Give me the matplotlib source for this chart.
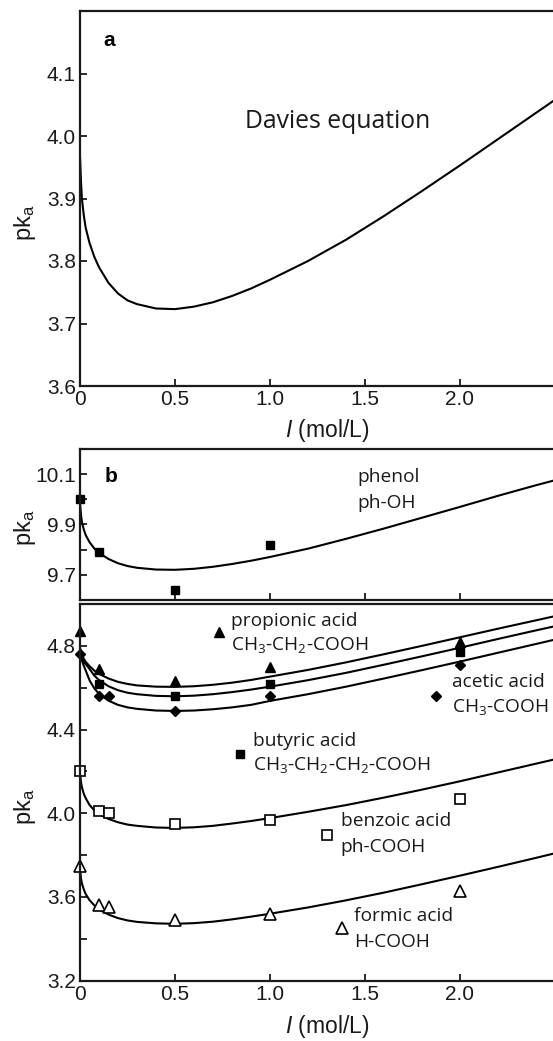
import matplotlib
matplotlib.use('Agg')
import matplotlib.pyplot as plt

plt.rcParams['font.family'] = ['Liberation Sans', 'DejaVu Sans']
plt.rcParams['mathtext.fontset'] = 'custom'
plt.rcParams['mathtext.rm'] = 'Open Sans'
plt.rcParams['mathtext.it'] = 'Liberation Sans:italic'

# ---------------- data ----------------
# ionic-strength positions at which the drawn curves were read (mol/L)
curve_I = [0, 0.005, 0.01, 0.02, 0.03, 0.05, 0.075, 0.1, 0.15, 0.2, 0.25, 0.3, 0.4,
           0.5, 0.6, 0.7, 0.8, 0.9, 1.0, 1.2, 1.4, 1.6, 1.8, 2.0, 2.2, 2.4, 2.5]

# panel a: Davies equation curve
davies_pka = [3.968, 3.928, 3.900, 3.873, 3.853, 3.829, 3.807, 3.790, 3.765, 3.748,
              3.737, 3.731, 3.724, 3.723, 3.727, 3.734, 3.744, 3.756, 3.770, 3.800,
              3.834, 3.872, 3.912, 3.953, 3.995, 4.037, 4.058]

# panel b (upper): phenol
phenol_curve = [9.985, 9.940, 9.910, 9.880, 9.858, 9.830, 9.805, 9.787, 9.763, 9.746,
                9.735, 9.728, 9.721, 9.720, 9.724, 9.732, 9.743, 9.756, 9.771, 9.804,
                9.843, 9.884, 9.927, 9.970, 10.014, 10.056, 10.076]
phenol_I = [0, 0.1, 0.5, 1.0]
phenol_pka = [10.0, 9.79, 9.64, 9.82]

# panel b (lower): carboxylic acids
propionic_curve = [4.790, 4.770, 4.758, 4.738, 4.724, 4.703, 4.682, 4.666, 4.644, 4.628,
                   4.618, 4.611, 4.605, 4.604, 4.607, 4.614, 4.624, 4.637, 4.653, 4.685,
                   4.721, 4.760, 4.800, 4.841, 4.882, 4.922, 4.942]
butyric_curve = [4.775, 4.755, 4.742, 4.725, 4.713, 4.690, 4.658, 4.637, 4.607, 4.588,
                 4.576, 4.569, 4.561, 4.559, 4.562, 4.569, 4.579, 4.591, 4.605, 4.636,
                 4.671, 4.710, 4.750, 4.791, 4.833, 4.874, 4.894]
acetic_curve = [4.765, 4.745, 4.730, 4.705, 4.682, 4.636, 4.597, 4.571, 4.538, 4.518,
                4.506, 4.499, 4.491, 4.489, 4.491, 4.497, 4.506, 4.518, 4.537, 4.569,
                4.605, 4.644, 4.684, 4.725, 4.767, 4.809, 4.830]
benzoic_curve = [4.195, 4.150, 4.125, 4.093, 4.072, 4.040, 4.014, 3.997, 3.973, 3.957,
                 3.946, 3.940, 3.932, 3.930, 3.933, 3.940, 3.951, 3.963, 3.977, 4.007,
                 4.039, 4.075, 4.113, 4.153, 4.195, 4.237, 4.258]
formic_curve = [3.735, 3.690, 3.665, 3.636, 3.614, 3.585, 3.560, 3.541, 3.516, 3.499,
                3.488, 3.481, 3.474, 3.472, 3.475, 3.482, 3.493, 3.506, 3.520, 3.550,
                3.584, 3.621, 3.661, 3.702, 3.744, 3.787, 3.809]

propionic_I = [0, 0.1, 0.5, 1.0, 2.0]
propionic_pka = [4.87, 4.69, 4.63, 4.70, 4.82]
butyric_I = [0.1, 0.5, 1.0, 2.0]
butyric_pka = [4.62, 4.56, 4.62, 4.77]
acetic_I = [0, 0.1, 0.15, 0.5, 1.0, 2.0]
acetic_pka = [4.76, 4.56, 4.56, 4.49, 4.56, 4.71]
benzoic_I = [0, 0.1, 0.15, 0.5, 1.0, 2.0]
benzoic_pka = [4.20, 4.01, 4.00, 3.95, 3.97, 4.07]
formic_I = [0, 0.1, 0.15, 0.5, 1.0, 2.0]
formic_pka = [3.75, 3.56, 3.55, 3.49, 3.52, 3.63]

x_ticks = [0, 0.5, 1.0, 1.5, 2.0]
x_ticklabels = ['0', '0.5', '1.0', '1.5', '2.0']
a_yticks = [3.6, 3.7, 3.8, 3.9, 4.0, 4.1]
a_yticklabels = ['3.6', '3.7', '3.8', '3.9', '4.0', '4.1']
ph_yticks = [9.7, 9.8, 9.9, 10.0, 10.1]
ph_yticklabels = ['9.7', '', '9.9', '', '10.1']
low_yticks = [3.2, 3.4, 3.6, 3.8, 4.0, 4.2, 4.4, 4.6, 4.8]
low_yticklabels = ['3.2', '', '3.6', '', '4.0', '', '4.4', '', '4.8']

# ---------------- figure ----------------
W, H = 553, 1041
fig = plt.figure(figsize=(W / 100, H / 100), dpi=100)

XMAX = 2.52
X0 = 80
PX_PER_UNIT = 190
RIGHT = X0 + PX_PER_UNIT * XMAX


def axes_px(top, bottom):
    return fig.add_axes([X0 / W, 1 - bottom / H, (RIGHT - X0) / W, (bottom - top) / H])


LABEL_FONT = ['Open Sans', 'DejaVu Sans']
TICK_COLOR = '#1a1a1a'
TICK_SIZE = 15


def style(ax, ylim, yticks, yticklabels, xlabels=True):
    ax.set_xlim(0, XMAX)
    ax.set_ylim(*ylim)
    ax.set_xticks(x_ticks)
    ax.set_xticklabels(x_ticklabels if xlabels else [''] * len(x_ticks))
    ax.set_yticks(yticks)
    ax.set_yticklabels(yticklabels)
    ax.tick_params(direction='in', length=5, width=1.3, labelsize=TICK_SIZE,
                   colors=TICK_COLOR, pad=3)
    for s in ax.spines.values():
        s.set_linewidth(1.6)
        s.set_color('#1a1a1a')


def pka_label(ax, ypx):
    fig.text(25 / W, 1 - ypx / H, r'pk$_{\mathregular{a}}$', rotation=90, ha='center',
             va='center', fontsize=17, color=TICK_COLOR)


def xlabel(ypx):
    fig.text((X0 + 1.30 * PX_PER_UNIT) / W, 1 - ypx / H, r'$\mathit{I}$ (mol/L)',
             ha='center', va='center', fontsize=16.5, color=TICK_COLOR)


LW = 1.5
LAB = 13.8

# ---- panel a ----
ax_a = axes_px(11, 386)
style(ax_a, (3.6, 4.2), a_yticks, a_yticklabels)
ax_a.plot(curve_I, davies_pka, color='black', lw=LW)
ax_a.text(0.868, 4.024, 'Davies equation', fontsize=17.8, family=LABEL_FONT,
          va='center', ha='left', color='#1a1a1a')
ax_a.text(0.151, 4.152, 'a', fontsize=15, fontweight='bold', va='center', ha='center')
xlabel(431)
pka_label(ax_a, 223)

# ---- panel b upper (phenol) ----
ax_p = axes_px(449, 600)
style(ax_p, (9.6, 10.2), ph_yticks, ph_yticklabels, xlabels=False)
ax_p.plot(curve_I, phenol_curve, color='black', lw=LW)
ax_p.plot(phenol_I, phenol_pka, ls='none', marker='s', ms=5.5, color='black',
          clip_on=False)
ax_p.text(0.165, 10.09, 'b', fontsize=15, fontweight='bold', va='center', ha='center')
ax_p.text(1.459, 10.09, 'phenol', fontsize=LAB, family=LABEL_FONT, va='center',
          ha='left', color='#1a1a1a')
ax_p.text(1.459, 9.985, 'ph-OH', fontsize=LAB, family=LABEL_FONT, va='center',
          ha='left', color='#1a1a1a')
pka_label(ax_p, 528)

# ---- panel b lower (carboxylic acids) ----
ax_b = axes_px(604, 980.7)
style(ax_b, (3.2, 5.0), low_yticks, low_yticklabels)
for ys in (propionic_curve, butyric_curve, acetic_curve, benzoic_curve, formic_curve):
    ax_b.plot(curve_I, ys, color='black', lw=LW)

filled = dict(ls='none', color='black', clip_on=False)
opened = dict(ls='none', mfc='white', mec='black', mew=1.2, clip_on=False)
ax_b.plot(propionic_I, propionic_pka, marker='^', ms=6.5, **filled)
ax_b.plot(butyric_I, butyric_pka, marker='s', ms=5.5, **filled)
ax_b.plot(acetic_I, acetic_pka, marker='D', ms=5.5, **filled)
ax_b.plot(benzoic_I, benzoic_pka, marker='s', ms=7, **opened)
ax_b.plot(formic_I, formic_pka, marker='^', ms=8, **opened)

# in-plot legend markers
ax_b.plot([0.73], [4.865], marker='^', ms=6.5, **filled)
ax_b.plot([1.875], [4.562], marker='D', ms=5.5, **filled)
ax_b.plot([0.84], [4.284], marker='s', ms=5.5, **filled)
ax_b.plot([1.30], [3.897], marker='s', ms=7, **opened)
ax_b.plot([1.379], [3.451], marker='^', ms=8, **opened)

labels = [
    (0.794, 4.921, 'propionic acid'),
    (0.794, 4.805, r'CH$_3$-CH$_2$-COOH'),
    (1.958, 4.625, 'acetic acid'),
    (1.958, 4.510, r'CH$_3$-COOH'),
    (0.908, 4.347, 'butyric acid'),
    (0.908, 4.231, r'CH$_3$-CH$_2$-CH$_2$-COOH'),
    (1.373, 3.964, 'benzoic acid'),
    (1.373, 3.841, 'ph-COOH'),
    (1.441, 3.510, 'formic acid'),
    (1.441, 3.387, 'H-COOH'),
]
for x, y, s in labels:
    ax_b.text(x, y, s, fontsize=LAB, family=LABEL_FONT, va='center', ha='left',
              color='#1a1a1a', clip_on=False)

xlabel(1027)
pka_label(ax_b, 807)

fig.savefig('out.png', dpi=100)
